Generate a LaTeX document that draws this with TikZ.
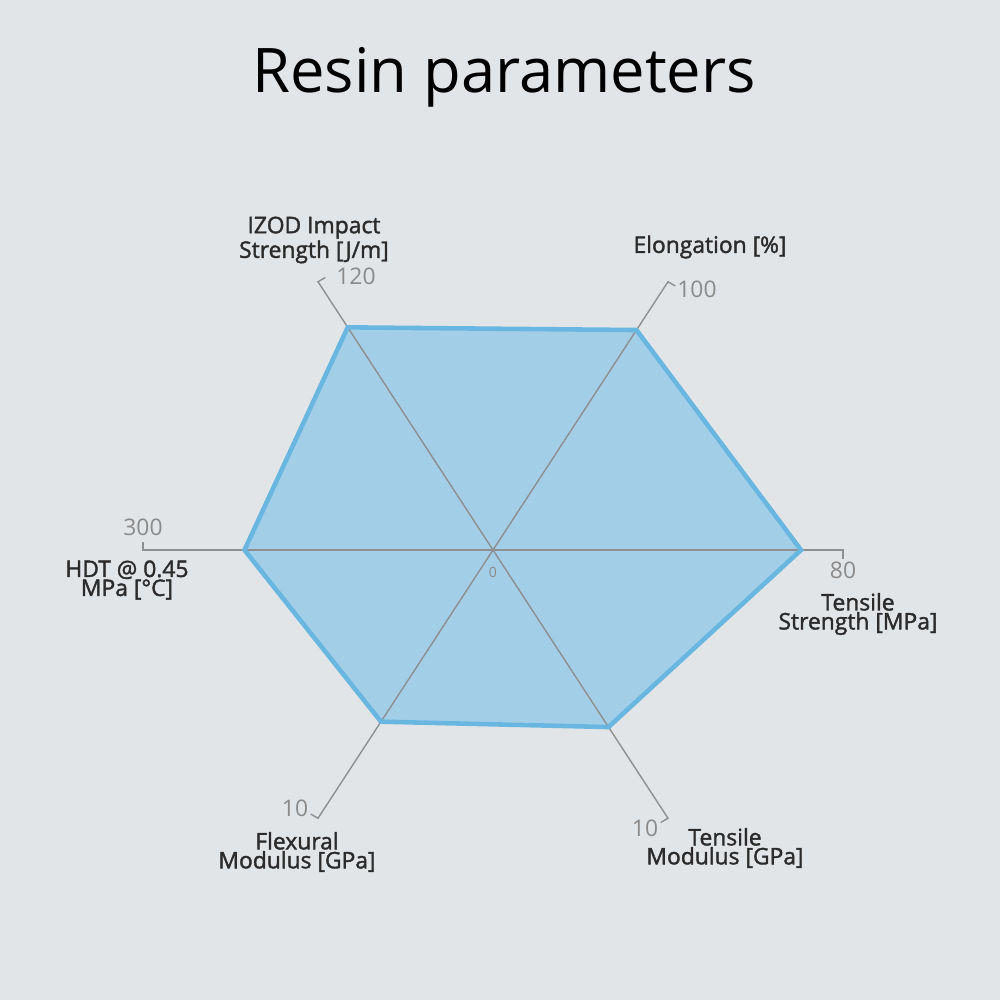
\documentclass[tikz,border=0pt]{standalone}
\usepackage{fontspec}
\setmainfont{Open Sans}
\newfontfamily\labelfont[FakeBold=1.6]{Open Sans}
\usetikzlibrary{calc}
\definecolor{bggray}{HTML}{E2E5E8}
\definecolor{axisgray}{HTML}{8E8F91}
\definecolor{valgray}{HTML}{8A8A8A}
\definecolor{labeldark}{HTML}{2B2B2B}
\definecolor{resinfill}{HTML}{A3CEE8}
\definecolor{resinedge}{HTML}{69B7E0}

\begin{document}
\begin{tikzpicture}[
    axisline/.style={draw=axisgray, line width=0.8pt},
    axislabel/.style={align=center, text=labeldark, font=\labelfont\fontsize{13}{10.8}\selectfont},
    vallabel/.style={text=valgray, font=\fontsize{13}{13}\selectfont},
]
\fill[bggray] (-9.86,-9) rectangle (10.14,11);
\useasboundingbox (-9.86,-9) rectangle (10.14,11);

\begin{scope}
    \coordinate (O) at (0,0);
    % axis ends and polygon corners
    \foreach \ang/\frc [count=\i] in {0/0.88, 60/0.82, 120/0.83, 180/0.71, 240/0.64, 300/0.66}{
        \coordinate (e\i) at ({7*cos(\ang)},{0.885*7*sin(\ang)});
        \coordinate (v\i) at ({\frc*7*cos(\ang)},{\frc*0.885*7*sin(\ang)});
    }
    \fill[resinfill] (v1) -- (v2) -- (v3) -- (v4) -- (v5) -- (v6) -- cycle;
    \foreach \ang [count=\i] in {0,60,120,180,240,300}{
        \draw[axisline] (O) -- (e\i) -- ++(\ang-90:0.17);
    }
    \draw[resinedge, line width=2.6pt, line join=miter] (v1) -- (v2) -- (v3) -- (v4) -- (v5) -- (v6) -- cycle;
    \node[text=valgray, font=\fontsize{8}{8}\selectfont] (zero) at (0,-0.44) {0};
\end{scope}

\node[text=black, font=\fontsize{35}{35}\selectfont] (title) at (0.22,9.46) {Resin parameters};

% values at the axis ends
\node[vallabel] (v120) at (-2.74,5.48) {120};
\node[vallabel] (v100) at (4.08,5.22) {100};
\node[vallabel] (v80) at (7.0,-0.4) {80};
\node[vallabel] (v300) at (-7.0,0.46) {300};
\node[vallabel] (vflex) at (-3.96,-5.16) {10};
\node[vallabel] (vtens) at (3.04,-5.56) {10};

% axis names
\node[axislabel] (izod) at (-3.58,6.2) {IZOD Impact\\Strength [J/m]};
\node[axislabel] (elong) at (4.34,6.06) {Elongation [\%]};
\node[axislabel] (tstr) at (7.3,-1.28) {Tensile\\Strength [MPa]};
\node[axislabel] (hdt) at (-7.32,-0.6) {HDT @ 0.45\\MPa [°C]};
\node[axislabel] (flex) at (-3.92,-6.04) {Flexural\\Modulus [GPa]};
\node[axislabel] (tmod) at (4.64,-5.96) {Tensile\\Modulus [GPa]};
\end{tikzpicture}
\end{document}
